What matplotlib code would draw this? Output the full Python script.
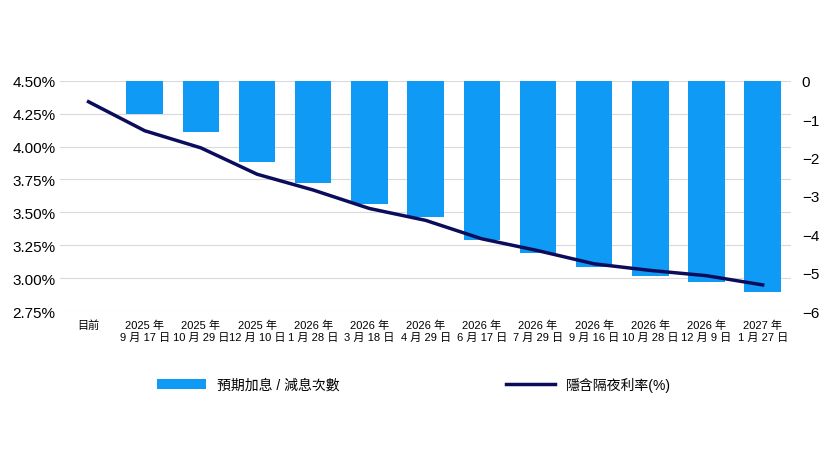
import matplotlib
matplotlib.use("Agg")
import matplotlib.pyplot as plt
import numpy as np

plt.rcParams['font.family'] = ['Liberation Sans', 'Noto Sans CJK TC', 'DejaVu Sans']

categories = ["目前", "2025 年\n9 月 17 日", "2025 年\n10 月 29 日", "2025 年\n12 月 10 日",
              "2026 年\n1 月 28 日", "2026 年\n3 月 18 日", "2026 年\n4 月 29 日", "2026 年\n6 月 17 日",
              "2026 年\n7 月 29 日", "2026 年\n9 月 16 日", "2026 年\n10 月 28 日", "2026 年\n12 月 9 日",
              "2027 年\n1 月 27 日"]
moves = [np.nan, -0.86, -1.33, -2.11, -2.66, -3.21, -3.55, -4.15, -4.49, -4.86, -5.07, -5.25, -5.51]
rates = [4.34, 4.12, 3.99, 3.79, 3.67, 3.53, 3.44, 3.30, 3.21, 3.11, 3.06, 3.02, 2.95]

fig = plt.figure(figsize=(8.28, 4.64), dpi=100)
ax = fig.add_axes([0.073, 0.327, 0.882, 0.497])
ax2 = ax.twinx()
x = np.arange(len(categories))

ax2.bar(x, moves, width=0.65, color='#0F9BF5', label='預期加息 / 減息次數', zorder=2)
ax2.set_ylim(-6, 0)
ax2.set_yticks(range(-6, 1))
ax2.tick_params(axis='y', labelsize=11, length=0, pad=8)

ax.plot(x, rates, color='#0C0C5C', lw=2.5, label='隱含隔夜利率(%)', zorder=3)
ax.set_ylim(2.75, 4.5)
yt = np.arange(2.75, 4.51, 0.25)
ax.set_yticks(yt)
ax.set_yticklabels([f"{v:.2f}%" for v in yt])
ax.tick_params(axis='y', labelsize=11, length=0)
ax.set_xlim(-0.5, len(categories) - 0.5)
ax.set_xticks(x)
ax.set_xticklabels(categories, fontsize=8)
ax.tick_params(axis='x', length=0, pad=6)
for v in yt:
    ax2.plot([0, 1], [v, v], transform=ax.get_yaxis_transform(), color='#d9d9d9', lw=0.8, zorder=0)
ax.set_zorder(ax2.get_zorder() + 1)
ax.patch.set_visible(False)
for a in (ax, ax2):
    for s in a.spines.values():
        s.set_visible(False)

h1, l1 = ax2.get_legend_handles_labels()
h2, l2 = ax.get_legend_handles_labels()
fig.legend(h1 + h2, l1 + l2, loc='center', bbox_to_anchor=(0.5, 0.17), ncol=2,
           frameon=False, fontsize=10, columnspacing=12, handlelength=3.5)
fig.savefig("out.png", dpi=100)
